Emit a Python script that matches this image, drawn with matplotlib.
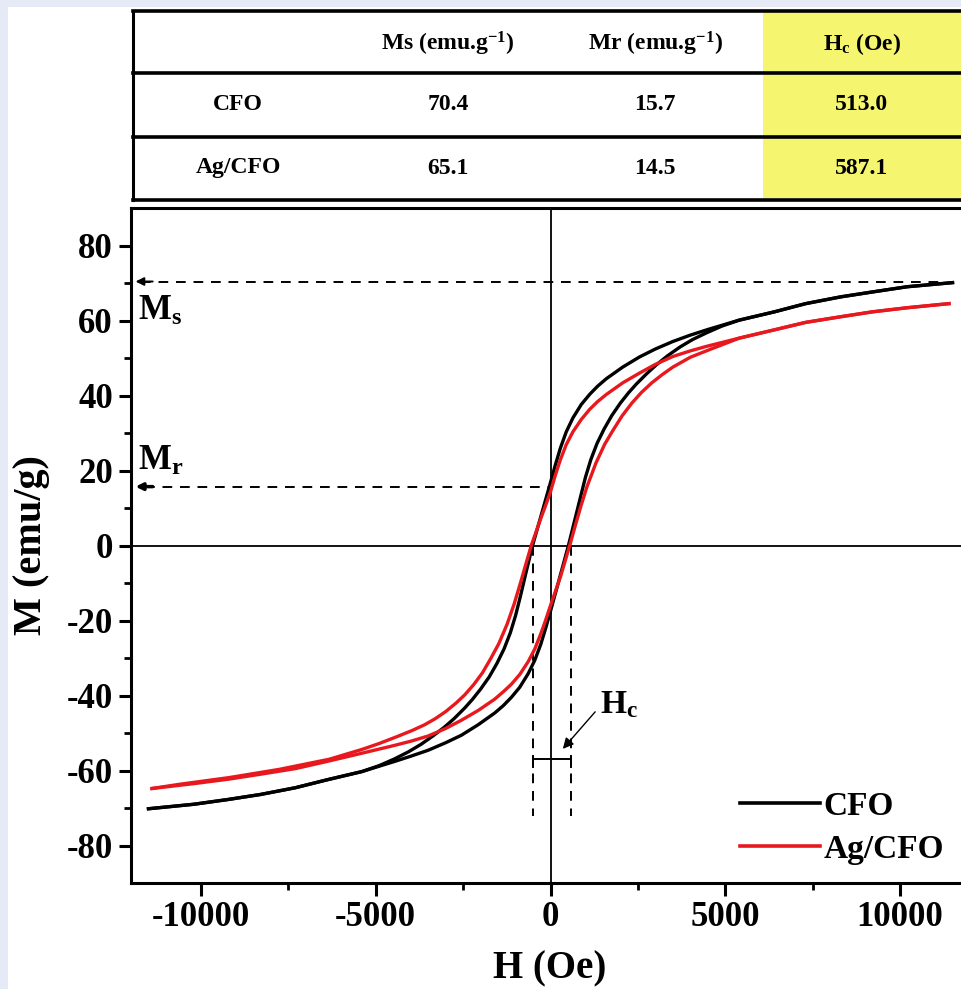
import matplotlib
matplotlib.use('Agg')
import matplotlib.pyplot as plt
from matplotlib.lines import Line2D
from matplotlib.patches import Rectangle

plt.rcParams['font.family'] = ['Liberation Serif', 'DejaVu Serif']
plt.rcParams['font.weight'] = 'bold'
plt.rcParams['mathtext.fontset'] = 'custom'
plt.rcParams['mathtext.rm'] = 'Liberation Serif:bold'
plt.rcParams['mathtext.it'] = 'Liberation Serif:bold'
plt.rcParams['mathtext.bf'] = 'Liberation Serif:bold'
plt.rcParams['axes.unicode_minus'] = False

# table values
samples = ['CFO', 'Ag/CFO']
ms_vals = ['70.4', '65.1']
mr_vals = ['15.7', '14.5']
hc_vals = ['513.0', '587.1']
headers = ['', 'Ms (emu.g$^{-1}$)', 'Mr (emu.g$^{-1}$)', 'H$_c$ (Oe)']

ms_cfo = 70.4
mr_cfo = 15.7
hc_left = -513
hc_right = 587

# CFO loop, descending branch (+H -> -H)
cfo_down_h = [11500, 10200, 9200, 8300, 7300, 6400, 5400, 4500, 4000, 3500, 3000, 2550, 2070, 1600, 1350,
              1120, 880, 640, 450, 280, 130, 0, -250, -513, -700, -860, -1000, -1150, -1330, -1530, -1750,
              -2000, -2230, -2460, -2750, -3030, -3350, -3700, -4060, -4460, -4900, -5400, -6400, -7300,
              -8300, -9200, -10200, -11500]
cfo_down_m = [70.1, 69.0, 67.6, 66.3, 64.5, 62.3, 60.1, 57.6, 56.1, 54.4, 52.4, 50.3, 47.6, 44.5, 42.5,
              40.3, 37.6, 34.0, 30.3, 25.9, 21.2, 16.8, 8.6, 0.0, -7.2, -13.5, -18.7, -23.3, -27.6, -31.4, -35.0,
              -38.3, -41.0, -43.4, -46.1, -48.4, -50.7, -53.0, -55.0, -56.9, -58.7, -60.3, -62.5, -64.6,
              -66.4, -67.7, -69.0, -70.2]
# CFO loop, ascending branch (-H -> +H)
cfo_up_h = [-11500, -10200, -9200, -8300, -7300, -6400, -5400, -4500, -4000, -3500, -3000, -2550, -2070,
            -1600, -1350, -1120, -880, -640, -450, -280, -130, 0, 250, 513, 700, 860, 1000, 1150, 1330, 1530,
            1750, 2000, 2230, 2460, 2750, 3030, 3350, 3700, 4060, 4460, 4900, 5400, 6400, 7300, 8300, 9200,
            10200, 11500]
cfo_up_m = [-70.2, -69.0, -67.7, -66.4, -64.6, -62.5, -60.3, -57.7, -56.2, -54.6, -52.6, -50.6, -47.8,
            -44.7, -42.7, -40.5, -37.8, -34.2, -30.6, -26.4, -21.8, -17.5, -9.0, 0.0, 7.0, 13.0, 18.2, 22.8,
            27.2, 31.0, 34.6, 38.0, 40.7, 43.1, 45.8, 48.2, 50.6, 52.9, 54.9, 56.7, 58.5, 60.1, 62.3, 64.5,
            66.3, 67.6, 69.0, 70.1]

# Ag/CFO loop
ag_down_h = [11400, 10200, 9200, 8300, 7300, 6400, 5400, 4460, 4000, 3500, 3000, 2550, 2070, 1600, 1350,
             1120, 880, 640, 450, 280, 130, 0, -150, -290, -550, -700, -860, -1040, -1242, -1480, -1719,
             -1950, -2197, -2450, -2700, -3000, -3300, -3600, -3950, -4400, -4900, -5400, -6330, -7760,
             -9200, -10630, -11400]
ag_down_m = [64.5, 63.4, 62.3, 61.0, 59.5, 57.5, 55.3, 53.1, 51.9, 50.4, 48.3, 46.0, 43.4, 40.3, 38.4,
             36.3, 33.6, 30.3, 26.9, 22.8, 18.5, 14.3, 10.4, 6.9, 0.0, -4.8, -10.0, -15.6, -21.0, -26.2,
             -30.3, -34.0, -37.1, -39.8, -42.0, -44.3, -46.2, -47.8, -49.3, -51.0, -52.8, -54.4, -57.0,
             -59.7, -61.9, -63.7, -64.8]
ag_up_h = [-11400, -10200, -9200, -8300, -7300, -6400, -5400, -4460, -4000, -3500, -3000, -2550, -2070,
           -1600, -1350, -1120, -880, -640, -450, -280, -150, 0, 290, 550, 700, 860, 1040, 1300, 1550, 1780,
           2050, 2330, 2600, 2900, 3200, 3505, 4000, 4650, 5400, 6400, 7300, 8300, 9200, 10200, 11400]
ag_up_m = [-64.8, -63.5, -62.3, -61.0, -59.5, -57.6, -55.4, -53.3, -52.2, -50.8, -48.8, -46.6, -44.0,
           -41.0, -39.0, -37.0, -34.4, -31.0, -27.6, -23.6, -20.2, -16.0, -8.2, 0.0, 5.0, 10.2, 15.6, 22.0,
           27.0, 30.6, 34.6, 38.0, 40.8, 43.4, 45.6, 47.6, 50.2, 52.6, 55.3, 57.5, 59.5, 61.0, 62.3, 63.4,
           64.5]

W, H = 962, 989
fig = plt.figure(figsize=(W / 100, H / 100), dpi=100)
fig.patch.set_facecolor('#e6eaf6')
fig.add_artist(Rectangle((8 / W, 0), 1, 1 - 7 / H, transform=fig.transFigure,
                         facecolor='white', edgecolor='none', zorder=0))

def fx(px):
    return px / W

def fy(py):
    return 1 - py / H

# ---- table on top ----
fig.add_artist(Rectangle((fx(763), fy(198)), 1, (198 - 12) / H, transform=fig.transFigure,
                         facecolor='#f5f570', edgecolor='none', zorder=1))
for y in [11, 73, 137, 200]:
    fig.add_artist(Line2D([fx(133), 1], [fy(y), fy(y)], transform=fig.transFigure,
                          color='black', lw=2.6, zorder=2))
fig.add_artist(Line2D([fx(133), fx(133)], [fy(11), fy(200)], transform=fig.transFigure,
                      color='black', lw=2.2, zorder=2))
col_x = [238, 448, 655, 862]
row_y = [44, 105, 168]
for j, txt in enumerate(headers):
    fig.text(fx(col_x[j]), fy(row_y[0]), txt, ha='center', va='center', fontsize=17, fontweight='bold')
for i in range(2):
    row = [samples[i], ms_vals[i], mr_vals[i], hc_vals[i]]
    for j, txt in enumerate(row):
        fig.text(fx(col_x[j]), fy(row_y[i + 1]), txt, ha='center', va='center', fontsize=17,
                 fontweight='bold')

# ---- main axes (extends past right edge like the cropped source) ----
ax = fig.add_axes([fx(131), fy(883), (970 - 131) / W, (883 - 208) / H])
ax.set_xlim(-12000, 12000)
ax.set_ylim(-90, 90)

ax.plot(cfo_down_h, cfo_down_m, color='black', lw=2.4, zorder=4, solid_joinstyle='round')
ax.plot(cfo_up_h, cfo_up_m, color='black', lw=2.4, zorder=4, label='CFO', solid_joinstyle='round')
ax.plot(ag_down_h, ag_down_m, color='#e8191e', lw=2.4, zorder=5, solid_joinstyle='round')
ax.plot(ag_up_h, ag_up_m, color='#e8191e', lw=2.4, zorder=5, label='Ag/CFO', solid_joinstyle='round')

ax.axhline(0, color='black', lw=1.3, zorder=2)
ax.axvline(0, color='black', lw=1.3, zorder=2)

# Ms / Mr guides
ax.plot([-11700, 11300], [ms_cfo, ms_cfo], color='black', lw=1.4, ls=(0, (5, 4)), zorder=3)
ax.plot([-11600, 0], [mr_cfo, mr_cfo], color='black', lw=1.4, ls=(0, (5, 4)), zorder=3)
ax.annotate('', xy=(-11950, ms_cfo), xytext=(-11300, ms_cfo),
            arrowprops=dict(arrowstyle='-|>', color='black', lw=1.4, mutation_scale=12))
ax.annotate('', xy=(-11950, mr_cfo), xytext=(-11300, mr_cfo),
            arrowprops=dict(arrowstyle='-|>', color='black', lw=2.5, mutation_scale=10))
ax.text(-11800, 62.5, 'M$_\\mathrm{s}$', fontsize=25, fontweight='bold', va='center', ha='left')
ax.text(-11800, 22.5, 'M$_\\mathrm{r}$', fontsize=25, fontweight='bold', va='center', ha='left')

# Hc guides
for hv in [hc_left, hc_right]:
    ax.plot([hv, hv], [0, -72], color='black', lw=1.4, ls=(0, (5, 4)), zorder=3)
ax.plot([hc_left, hc_right], [-57, -57], color='black', lw=1.4, zorder=3)
ax.plot([hc_left, hc_left], [-56, -59], color='black', lw=1.4, zorder=3)
ax.plot([hc_right, hc_right], [-56, -59], color='black', lw=1.4, zorder=3)
ax.annotate('', xy=(300, -54.8), xytext=(1330, -43.8),
            arrowprops=dict(arrowstyle='-|>', color='black', lw=1.0, mutation_scale=16))
ax.text(1430, -42.5, 'H$_\\mathrm{c}$', fontsize=24, fontweight='bold', va='center', ha='left')

# axes styling
for s in ax.spines.values():
    s.set_linewidth(2.2)
ax.set_xticks([-10000, -5000, 0, 5000, 10000])
ax.set_xticks([-7500, -2500, 2500, 7500], minor=True)
ax.set_yticks([-80, -60, -40, -20, 0, 20, 40, 60, 80])
ax.set_yticks([-70, -50, -30, -10, 10, 30, 50, 70], minor=True)
ax.tick_params(which='major', direction='out', length=9, width=2.2, labelsize=25, pad=4)
ax.tick_params(which='minor', direction='out', length=5, width=2.0)
for lab in ax.get_xticklabels() + ax.get_yticklabels():
    lab.set_fontweight('bold')
ax.set_xlabel('H (Oe)', fontsize=28, fontweight='bold', labelpad=2)
ax.set_ylabel('M (emu/g)', fontsize=29, fontweight='bold')
ax.xaxis.set_label_coords((550 - 131) / (970 - 131), -0.1)
ax.yaxis.set_label_coords((50 - 131) / (970 - 131), 0.5)

leg = ax.legend(loc='upper left', bbox_to_anchor=(fx(740), fy(791)), bbox_transform=fig.transFigure,
                frameon=False, fontsize=24, handlelength=2.4, handletextpad=0.1, labelspacing=0.35,
                borderpad=0, borderaxespad=0)
for line in leg.get_lines():
    line.set_linewidth(2.6)

fig.savefig('out.png', dpi=100)
